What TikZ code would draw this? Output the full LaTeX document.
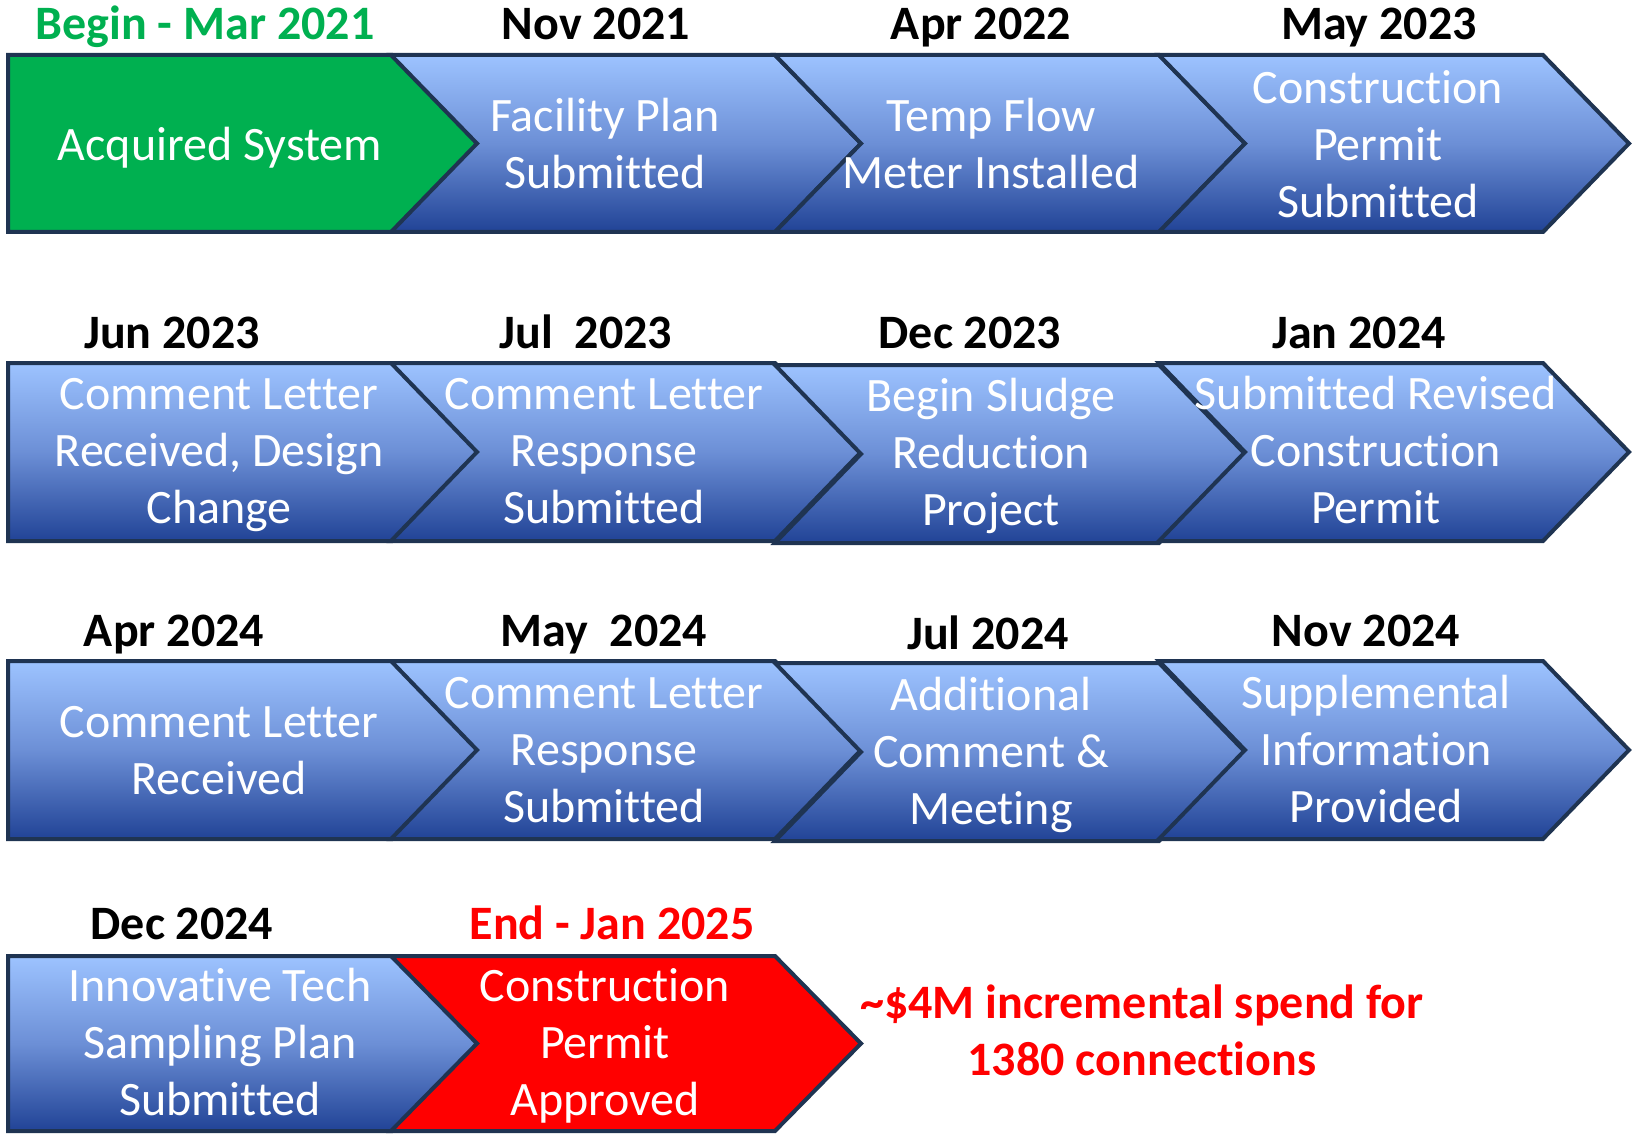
\documentclass[tikz,border=0pt]{standalone}
\usepackage{fontspec}
\setmainfont{Carlito}[Ligatures=NoCommon]
\definecolor{navy}{RGB}{31,52,82}
\definecolor{bluetop}{RGB}{157,195,255}
\definecolor{bluemid}{RGB}{108,143,214}
\definecolor{bluebot}{RGB}{33,67,150}
\definecolor{pgreen}{RGB}{0,176,80}
\definecolor{pred}{RGB}{255,0,0}
\newcommand\mychev[5]{%
  \path[#1] (#2,#3) -- ({#2+384},#3) -- ({#2+470},{(#3+#4)/2}) -- ({#2+384},#4) -- (#2,#4) -- ({#2+#5},{(#3+#4)/2}) -- cycle;}
\tikzset{
  chevblue/.style={draw=navy, line width=2pt, line join=miter, top color=bluetop, bottom color=bluebot, middle color=bluemid},
  chevgreen/.style={draw=navy, line width=2pt, line join=miter, fill=pgreen},
  chevred/.style={draw=navy, line width=2pt, line join=miter, fill=pred},
  datelbl/.style={font=\fontsize{24}{28.5}\selectfont\bfseries, text=black, inner sep=0pt, anchor=base},
  bodylbl/.style={font=\fontsize{24}{28.5}\selectfont, text=white, align=center, inner sep=0pt},
  notelbl/.style={font=\fontsize{24}{28.5}\selectfont\bfseries, text=pred, align=center, inner sep=0pt}
}
\begin{document}
\begin{tikzpicture}[x=0.5pt,y=-0.5pt]
\useasboundingbox (0,0) rectangle (1638,1134);
% row 1
\mychev{chevgreen}{8}{55}{232}{0}
\mychev{chevblue}{391}{55}{232}{86}
\mychev{chevblue}{775}{55}{232}{86}
\mychev{chevblue}{1159}{55}{232}{86}
% row 2
\mychev{chevblue}{8}{363}{541}{0}
\mychev{chevblue}{391}{363}{541}{86}
\mychev{chevblue}{775}{365}{543}{86}
\mychev{chevblue}{1159}{363}{541}{86}
% row 3
\mychev{chevblue}{8}{661}{839}{0}
\mychev{chevblue}{391}{661}{839}{86}
\mychev{chevblue}{775}{663}{841}{86}
\mychev{chevblue}{1159}{661}{839}{86}
% row 4
\mychev{chevblue}{8}{956}{1131}{0}
\mychev{chevred}{391}{956}{1131}{86}

% dates
\node[datelbl, text=pgreen] (d11) at (205,40) {Begin - Mar 2021};
\node[datelbl] (d12) at (596,40) {Nov 2021};
\node[datelbl] (d13) at (981,40) {Apr 2022};
\node[datelbl] (d14) at (1379,40) {May 2023};
\node[datelbl] (d21) at (172,348) {Jun 2023};
\node[datelbl] (d22) at (586,348) {Jul\ \ 2023};
\node[datelbl] (d23) at (970,348) {Dec 2023};
\node[datelbl] (d24) at (1359,348) {Jan 2024};
\node[datelbl] (d31) at (174,646) {Apr 2024};
\node[datelbl] (d32) at (604,646) {May\ \ 2024};
\node[datelbl] (d33) at (988,649) {Jul 2024};
\node[datelbl] (d34) at (1366,646) {Nov 2024};
\node[datelbl] (d41) at (182,939) {Dec 2024};
\node[datelbl, text=pred] (d42) at (612,939) {End - Jan 2025};

% bodies
\node[bodylbl] (b11) at (220,149) {\strut Acquired System};
\node[bodylbl] (b12) at (605,149) {\strut Facility Plan\\\strut Submitted};
\node[bodylbl] (b13) at (991,149) {\strut Temp Flow\\\strut Meter Installed};
\node[bodylbl] (b14) at (1378,149) {\strut Construction\\\strut Permit\\\strut Submitted};
\node[bodylbl] (b21) at (219,455) {\strut Comment Letter\\\strut Received, Design\\\strut Change};
\node[bodylbl] (b22) at (604,455) {\strut Comment Letter\\\strut Response\\\strut Submitted};
\node[bodylbl] (b23) at (991,457) {\strut Begin Sludge\\\strut Reduction\\\strut Project};
\node[bodylbl] (b24) at (1376,455) {\strut Submitted Revised\\\strut Construction\\\strut Permit};
\node[bodylbl] (b31) at (219,755) {\strut Comment Letter\\\strut Received};
\node[bodylbl] (b32) at (604,754) {\strut Comment Letter\\\strut Response\\\strut Submitted};
\node[bodylbl] (b33) at (991,756) {\strut Additional\\\strut Comment \&\\\strut Meeting};
\node[bodylbl] (b34) at (1376,754) {\strut Supplemental\\\strut Information\\\strut Provided};
\node[bodylbl] (b41) at (220,1047) {\strut Innovative Tech\\\strut Sampling Plan\\\strut Submitted};
\node[bodylbl] (b42) at (605,1047) {\strut Construction\\\strut Permit\\\strut Approved};

% note
\node[notelbl] (note) at (1142,1036) {\strut \textasciitilde\$4M incremental spend for\\\strut 1380 connections};
\end{tikzpicture}
\end{document}
